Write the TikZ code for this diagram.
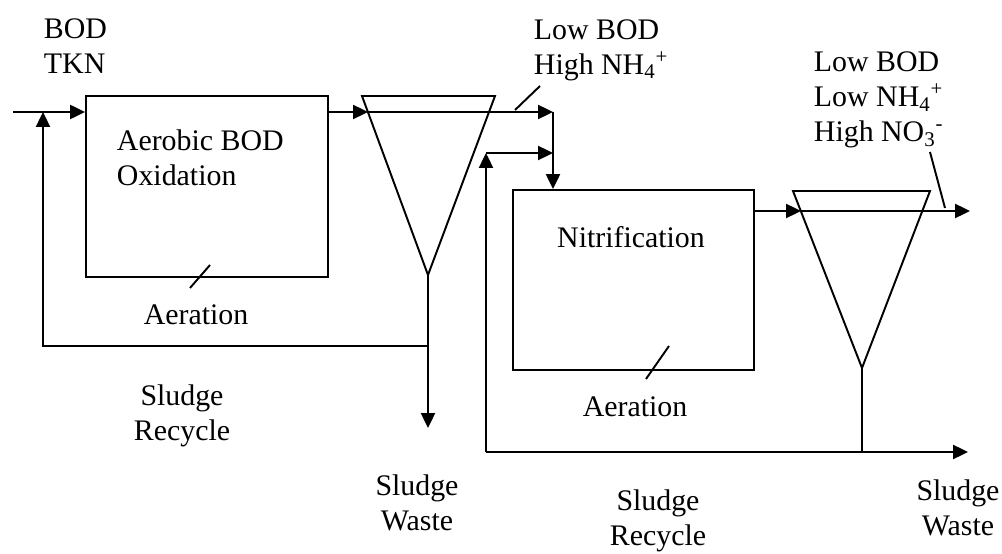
\documentclass[tikz,border=0pt]{standalone}
\usepackage{fontspec}
\setmainfont{Liberation Serif}
\usetikzlibrary{arrows.meta,positioning,calc}

\begin{document}
\begin{tikzpicture}[x=0.02cm, y=-0.02cm, >={Triangle[length=8.5pt,width=8pt]},
    line width=1.1pt,
    tank/.style={draw, line width=1.1pt, inner sep=0pt},
    lbl/.style={font=\fontsize{17}{19.8}\selectfont, inner sep=0pt, align=center},
    flow/.style={->, line width=1.1pt}]

    \useasboundingbox (0,0) rectangle (1002,554);

    % Aeration tanks
    \node[tank, minimum width=4.84cm, minimum height=3.62cm] (tank1) at (207,186.5) {};
    \node[tank, minimum width=4.82cm, minimum height=3.6cm] (tank2) at (633.5,280) {};
    \node[lbl, align=left, anchor=west] (name1) at (116,158) {Aerobic BOD\\Oxidation};
    \node[lbl] (name2) at (631,237) {Nitrification};

    % Clarifiers
    \coordinate (c1l) at (362,96);
    \coordinate (c1r) at (495,96);
    \coordinate (c1b) at (428,275);
    \draw (c1l) -- (c1r) -- (c1b) -- cycle;
    \coordinate (c2l) at (793,191);
    \coordinate (c2r) at (930,191);
    \coordinate (c2b) at (862,368);
    \draw (c2l) -- (c2r) -- (c2b) -- cycle;

    % Influent and first stage
    \coordinate (in) at (13,112);
    \coordinate (e1) at (368,112);
    \coordinate (j1) at (553,112);
    \draw[flow] (in) -- (tank1.west |- in);
    \draw[flow] (tank1.east |- e1) -- (e1);
    \draw[flow] (e1) -- (j1);
    \draw[flow] (j1) -- (j1 |- tank2.north);

    % First sludge recycle and waste
    \coordinate (r1) at (43,346);
    \coordinate (w1) at (428,428);
    \draw[flow] (c1b) -- (w1);
    \draw[flow] (c1b |- r1) -- (r1) -- (r1 |- in);

    % Second stage effluent
    \coordinate (e2) at (801,211);
    \coordinate (out) at (970,211);
    \draw[flow] (tank2.east |- e2) -- (e2);
    \draw[flow] (e2) -- (out);

    % Second sludge recycle and waste
    \coordinate (r2) at (486,452);
    \coordinate (r2t) at (486,153);
    \coordinate (w2) at (968,452);
    \draw[flow] (r2) -- (r2t);
    \draw[flow] (r2t) -- (j1 |- r2t);
    \draw[flow] (r2) -- (w2);
    \draw (c2b) -- (c2b |- w2);

    % Aeration marks
    \draw (190,288) -- (210,265);
    \draw (646,379) -- (669,346);
    \node[lbl] (air1) at (196,315) {Aeration};
    \node[lbl] (air2) at (635,407) {Aeration};

    % Stream labels
    \node[lbl, align=left, anchor=west] (feed) at (43,46.5) {BOD\\TKN};
    \node[lbl, align=left, anchor=west] (mid) at (533,50) {Low BOD\\High NH\textsubscript{4}\textsuperscript{+}};
    \node[lbl, align=left, anchor=west] (eff) at (813,100) {Low BOD\\Low NH\textsubscript{4}\textsuperscript{+}\\High NO\textsubscript{3}\textsuperscript{-}};
    \draw (515,110) -- (540,86);
    \draw (945,208) -- (930,152);

    % Sludge labels
    \node[lbl] (rec1) at (182,416) {Sludge\\Recycle};
    \node[lbl] (was1) at (417,503) {Sludge\\Waste};
    \node[lbl] (rec2) at (658,521) {Sludge\\Recycle};
    \node[lbl] (was2) at (958,508) {Sludge\\Waste};

\end{tikzpicture}
\end{document}
